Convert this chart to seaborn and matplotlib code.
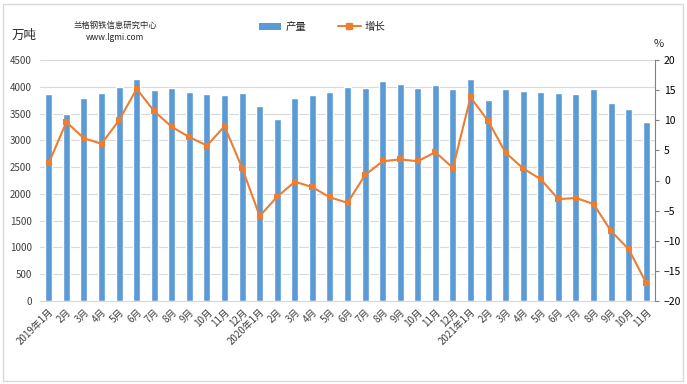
import numpy as np
import pandas as pd
import matplotlib
matplotlib.use('Agg')
import matplotlib.pyplot as plt
import seaborn as sns
from matplotlib.lines import Line2D
from matplotlib.patches import Patch, Rectangle

# month labels, 2019-01 .. 2021-11
months = (['2019年1月'] + [f'{m}月' for m in range(2, 13)]
          + ['2020年1月'] + [f'{m}月' for m in range(2, 13)]
          + ['2021年1月'] + [f'{m}月' for m in range(2, 12)])

# output, 10k tonnes
output = [3865, 3490, 3790, 3885, 4000, 4145, 3940, 3980, 3900, 3865, 3845, 3885,
          3640, 3400, 3790, 3845, 3900, 4000, 3980, 4110, 4050, 3980, 4035, 3960,
          4145, 3755, 3960, 3920, 3900, 3885, 3865, 3960, 3700, 3585, 3340]

# year-on-year growth, %
growth = [2.9, 9.7, 7.0, 6.1, 10.0, 15.2, 11.5, 8.9, 7.2, 5.8, 9.0, 2.1,
          -5.9, -2.7, -0.2, -1.1, -2.8, -3.7, 0.9, 3.2, 3.5, 3.2, 4.7, 2.1,
          13.8, 9.9, 4.6, 2.0, 0.2, -3.1, -2.9, -3.9, -8.4, -11.4, -17.0]

# month names repeat across years, so plot against a running index
df = pd.DataFrame({'idx': np.arange(len(months)), 'output': output, 'growth': growth})

sns.set_style('white')
plt.rcParams['font.family'] = ['Noto Sans CJK SC', 'DejaVu Sans']

blue = '#5B9BD5'
orange = '#ED7D31'

fig = plt.figure(figsize=(6.87, 3.84), dpi=100)
ax = fig.add_axes([40 / 687, 1 - 301 / 384, 615 / 687, 241 / 384])

sns.barplot(data=df, x='idx', y='output', color=blue, width=0.4,
            saturation=1, errorbar=None, ax=ax, zorder=2)
ax.set_ylim(0, 4500)
ax.set_yticks(np.arange(0, 4501, 500))
ax.set_xlim(-0.5, len(months) - 0.5)
ax.set_xticks(np.arange(len(months)))
ax.set_xticklabels(months)
ax.grid(axis='y', color='#D9D9D9', linewidth=0.8, zorder=0)
ax.set_axisbelow(True)
ax.set_xlabel('')
ax.set_ylabel('')
ax.tick_params(axis='y', labelsize=7, colors='#404040', length=0, pad=6)
ax.tick_params(axis='x', labelsize=7, colors='#404040', length=0, pad=4)
plt.setp(ax.get_xticklabels(), rotation=45, ha='right', rotation_mode='anchor')
for s in ['top', 'right', 'left']:
    ax.spines[s].set_visible(False)
ax.spines['bottom'].set_color('#D9D9D9')

ax2 = ax.twinx()
sns.lineplot(data=df, x='idx', y='growth', ax=ax2, color=orange,
             marker='s', markersize=5, markeredgewidth=0, linewidth=1.5)
ax2.set_ylim(-20, 20)
ax2.set_yticks(np.arange(-20, 21, 5))
ax2.set_xlim(-0.5, len(months) - 0.5)
ax2.set_ylabel('')
ax2.tick_params(axis='y', labelsize=7.5, colors='#000000', length=3, color='#808080')
for s in ['top', 'left', 'bottom']:
    ax2.spines[s].set_visible(False)
ax2.spines['right'].set_color('#808080')
ax2.grid(False)

# unit labels and watermark
fig.text(12 / 687, 1 - 35 / 384, '万吨', fontsize=9, va='center', ha='left')
fig.text(654 / 687, 1 - 44 / 384, '%', fontsize=8, va='center', ha='left')
fig.text(115 / 687, 1 - 25 / 384, '兰格钢铁信息研究中心', fontsize=6, va='center', ha='center')
fig.text(115 / 687, 1 - 37 / 384, 'www.lgmi.com', fontsize=6, va='center', ha='center')

handles = [Patch(facecolor=blue, edgecolor='none'),
           Line2D([0], [0], color=orange, marker='s', markersize=5, linewidth=1.5)]
fig.legend(handles, ['产量', '增长'], loc='center', bbox_to_anchor=(322 / 687, 1 - 27 / 384),
           ncol=2, frameon=False, fontsize=7.5, handlelength=2.2, columnspacing=3,
           handletextpad=0.4)

# outer border
fig.patches.append(Rectangle((3 / 687, 3 / 384), 680 / 687, 377 / 384, transform=fig.transFigure,
                             fill=False, edgecolor='#D9D9D9', linewidth=1))

fig.savefig('out.png', dpi=100)
